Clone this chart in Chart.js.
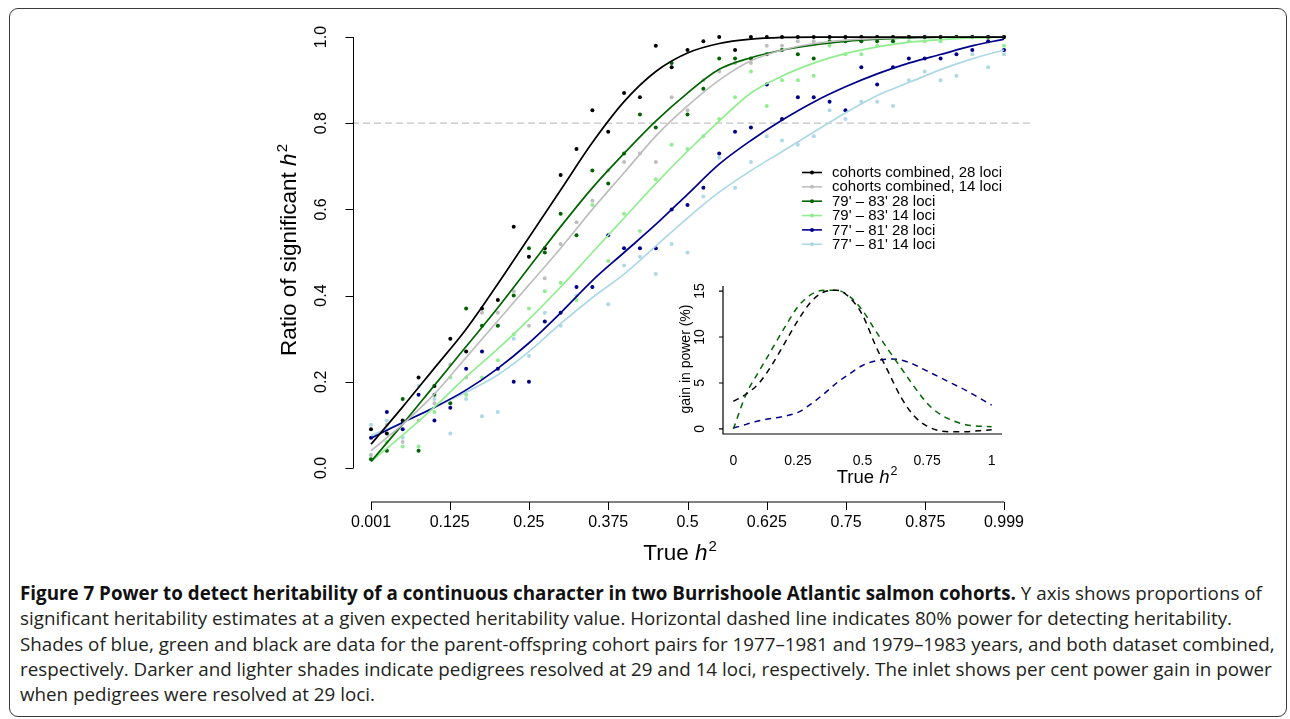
<!DOCTYPE html>
<html lang="en">
<head>
<meta charset="UTF-8">
<title>Figure 7</title>
<script src="https://cdn.jsdelivr.net/npm/chart.js"></script>
<style>
    body { margin: 0; background: #fff; width: 1290px; height: 719px; overflow: hidden; position: relative; }
    #frame { position: absolute; left: 9px; top: 8px; width: 1276px; height: 707px; border: 1.5px solid #3a3a3a; border-radius: 9px; }
    #main { position: absolute; left: 0; top: 0; width: 1290px; height: 575px; }
    #inset { position: absolute; left: 660px; top: 270px; width: 360px; height: 230px; }
    #caption { position: absolute; left: 20px; top: 581px; font-family: "Open Sans", sans-serif; font-size: 18.8px; line-height: 25.25px; color: #231f20; white-space: nowrap; }
    #caption b { color: #111; }
</style>
</head>
<body>
<div id="frame"></div>
<div id="main"><canvas id="mainChart"></canvas></div>
<div id="inset"><canvas id="insetChart"></canvas></div>
<div id="caption">
    <div><b>Figure 7 Power to detect heritability of a continuous character in two Burrishoole Atlantic salmon cohorts.</b> Y axis shows proportions of</div>
    <div>significant heritability estimates at a given expected heritability value. Horizontal dashed line indicates 80% power for detecting heritability.</div>
    <div>Shades of blue, green and black are data for the parent-offspring cohort pairs for 1977–1981 and 1979–1983 years, and both dataset combined,</div>
    <div>respectively. Darker and lighter shades indicate pedigrees resolved at 29 and 14 loci, respectively. The inlet shows per cent power gain in power</div>
    <div>when pedigrees were resolved at 29 loci.</div>
</div>
<script>
// simulated true h2 values
const hx = [0.001,0.026,0.051,0.076,0.101,0.126,0.151,0.176,0.201,0.226,0.250,0.275,0.300,0.325,0.350,0.375,0.400,0.425,0.450,0.475,0.500,0.525,0.550,0.575,0.600,0.625,0.649,0.674,0.699,0.724,0.749,0.774,0.799,0.824,0.849,0.874,0.899,0.924,0.949,0.974,0.999];

// ratio of significant estimates
const ptBlack = [0.09,0.08,0.11,0.21,0.19,0.30,0.27,0.37,0.39,0.56,0.49,0.51,0.68,0.74,0.83,0.78,0.87,0.86,0.98,0.93,0.97,0.99,1.00,0.97,1.00,1.00,1.00,1.00,1.00,1.00,1.00,1.00,1.00,1.00,1.00,1.00,1.00,1.00,1.00,1.00,1.00];
const ptGray = [0.03,0.10,0.06,0.11,0.15,0.24,0.21,0.36,0.36,0.41,0.33,0.44,0.52,0.57,0.62,0.69,0.71,0.73,0.71,0.86,0.83,0.90,0.92,0.94,0.94,0.98,0.98,0.99,0.99,1.00,1.00,1.00,1.00,1.00,1.00,1.00,1.00,1.00,1.00,1.00,1.00];
const ptGreen = [0.02,0.04,0.16,0.04,0.17,0.15,0.37,0.33,0.33,0.40,0.51,0.50,0.59,0.54,0.69,0.66,0.73,0.82,0.79,0.94,0.82,0.88,0.95,0.95,0.95,0.96,0.97,0.96,0.95,0.99,0.99,0.99,0.99,0.99,1.00,1.00,1.00,1.00,1.00,1.00,1.00];
const ptLightGreen = [0.03,0.06,0.05,0.05,0.13,0.21,0.17,0.21,0.25,0.31,0.37,0.41,0.43,0.39,0.61,0.48,0.59,0.55,0.67,0.75,0.74,0.77,0.81,0.86,0.92,0.84,0.90,0.90,0.91,0.98,0.96,0.96,0.98,0.99,0.99,0.99,0.99,1.00,1.00,1.00,0.98];
const ptBlue = [0.07,0.13,0.09,0.17,0.11,0.14,0.23,0.27,0.23,0.20,0.20,0.34,0.36,0.42,0.42,0.54,0.51,0.51,0.51,0.60,0.61,0.65,0.73,0.78,0.79,0.89,0.81,0.86,0.86,0.85,0.83,0.93,0.89,0.93,0.95,0.95,0.95,0.96,0.97,0.99,0.97];
const ptLightBlue = [0.10,0.11,0.07,0.19,0.16,0.08,0.16,0.12,0.13,0.30,0.26,0.36,0.33,0.40,0.42,0.38,0.47,0.49,0.45,0.52,0.50,0.63,0.72,0.65,0.71,0.77,0.76,0.75,0.77,0.83,0.81,0.85,0.85,0.84,0.90,0.92,0.90,0.91,0.96,0.93,0.96];

// fitted curves
const fitX = [0.001,0.05,0.10,0.15,0.20,0.25,0.30,0.35,0.40,0.45,0.50,0.55,0.60,0.65,0.70,0.75,0.80,0.85,0.90,0.95,0.999];
const fitBlack = [0.055,0.14,0.23,0.32,0.425,0.535,0.645,0.755,0.85,0.92,0.963,0.985,0.995,0.999,1,1,1,1,1,1,1];
const fitGray = [0.04,0.10,0.17,0.255,0.34,0.425,0.51,0.60,0.685,0.77,0.84,0.90,0.945,0.97,0.985,0.993,0.997,0.999,1,1,1];
const fitGreen = [0.015,0.10,0.19,0.28,0.37,0.465,0.56,0.65,0.73,0.805,0.87,0.925,0.952,0.97,0.982,0.99,0.995,0.998,1,1,1];
const fitLightGreen = [0.015,0.075,0.14,0.21,0.275,0.345,0.42,0.50,0.58,0.66,0.735,0.805,0.87,0.91,0.94,0.962,0.977,0.988,0.994,0.998,1];
const fitBlue = [0.069,0.105,0.14,0.18,0.23,0.29,0.36,0.435,0.50,0.565,0.635,0.705,0.76,0.808,0.85,0.885,0.915,0.94,0.96,0.98,0.995];
const fitLightBlue = [0.075,0.105,0.14,0.175,0.215,0.27,0.335,0.395,0.45,0.515,0.58,0.64,0.69,0.735,0.78,0.825,0.865,0.895,0.925,0.95,0.97];

const powerLevel = 0.8;

const seriesNames = ["cohorts combined, 28 loci","cohorts combined, 14 loci","79' \u2013 83' 28 loci","79' \u2013 83' 14 loci","77' \u2013 81' 28 loci","77' \u2013 81' 14 loci"];
const seriesColors = ["#000000","#bebebe","#006400","#90ee90","#00008b","#add8e6"];

const xTicks = [0.001,0.125,0.25,0.375,0.5,0.625,0.75,0.875,0.999];
const xTickLabels = ["0.001","0.125","0.25","0.375","0.5","0.625","0.75","0.875","0.999"];
const yTicks = [0,0.2,0.4,0.6,0.8,1.0];
const yTickLabels = ["0.0","0.2","0.4","0.6","0.8","1.0"];

// inset: gain in power (%)
const insetX = [0,0.05,0.10,0.15,0.20,0.25,0.30,0.35,0.40,0.45,0.50,0.55,0.60,0.65,0.70,0.75,0.80,0.85,0.90,0.95,1.0];
const gainCombined = [3.0,3.8,5.0,7.0,9.4,11.8,13.8,14.9,15.1,14.3,12.4,9.1,6.2,3.4,1.4,0.3,-0.2,-0.3,-0.3,-0.2,-0.1];
const gain7983 = [0.0,3.8,6.3,8.7,11.1,13.3,14.6,15.1,15.1,14.4,12.9,10.7,8.6,6.6,4.6,2.8,1.6,0.9,0.45,0.3,0.25];
const gain7781 = [0.1,0.5,0.9,1.15,1.4,1.8,2.7,3.8,5.0,6.0,6.9,7.4,7.6,7.5,7.0,6.3,5.6,4.9,4.2,3.4,2.6];
const insetColors = ["#000000","#006400","#00008b"];
const insetXTicks = [0,0.25,0.5,0.75,1];
const insetXTickLabels = ["0","0.25","0.5","0.75","1"];
const insetYTicks = [0,5,10,15];

const FONT = '"Liberation Sans", Arial, sans-serif';

function zip(xs, ys) {
    return xs.map((v, i) => ({ x: v, y: ys[i] }));
}

// "pre" + italic h + superscript 2, centred on x
function drawH2(ctx, pre, x, y, size, supSize) {
    ctx.font = size + 'px ' + FONT;
    const w1 = ctx.measureText(pre).width;
    ctx.font = 'italic ' + size + 'px ' + FONT;
    const w2 = ctx.measureText('h').width;
    ctx.font = supSize + 'px ' + FONT;
    const w3 = ctx.measureText('2').width;
    let sx = x - (w1 + w2 + w3 + 1) / 2;
    ctx.textAlign = 'left';
    ctx.textBaseline = 'alphabetic';
    ctx.font = size + 'px ' + FONT;
    ctx.fillText(pre, sx, y);
    ctx.font = 'italic ' + size + 'px ' + FONT;
    ctx.fillText('h', sx + w1, y);
    ctx.font = supSize + 'px ' + FONT;
    ctx.fillText('2', sx + w1 + w2 + 1, y - size * 0.42);
}

const mainAxes = {
    id: 'mainAxes',
    afterDraw(chart) {
        const ctx = chart.ctx;
        const x = chart.scales.x, y = chart.scales.y;
        ctx.save();
        ctx.strokeStyle = '#000';
        ctx.fillStyle = '#000';
        ctx.lineWidth = 1;

        // x axis
        const ax = 502;
        ctx.beginPath();
        ctx.moveTo(x.getPixelForValue(xTicks[0]), ax);
        ctx.lineTo(x.getPixelForValue(xTicks[xTicks.length - 1]), ax);
        xTicks.forEach(v => {
            const p = Math.round(x.getPixelForValue(v)) + 0.5;
            ctx.moveTo(p, ax);
            ctx.lineTo(p, ax + 8);
        });
        ctx.stroke();
        ctx.font = '16px ' + FONT;
        ctx.textAlign = 'center';
        ctx.textBaseline = 'middle';
        xTicks.forEach((v, i) => ctx.fillText(xTickLabels[i], x.getPixelForValue(v), 523));

        // y axis
        const ay = 353.5;
        ctx.beginPath();
        ctx.moveTo(ay, y.getPixelForValue(yTicks[0]));
        ctx.lineTo(ay, y.getPixelForValue(yTicks[yTicks.length - 1]));
        yTicks.forEach(v => {
            const p = Math.round(y.getPixelForValue(v)) + 0.5;
            ctx.moveTo(ay, p);
            ctx.lineTo(ay - 8, p);
        });
        ctx.stroke();
        yTicks.forEach((v, i) => {
            ctx.save();
            ctx.translate(322, y.getPixelForValue(v));
            ctx.rotate(-Math.PI / 2);
            ctx.font = '16px ' + FONT;
            ctx.textAlign = 'center';
            ctx.textBaseline = 'middle';
            ctx.fillText(yTickLabels[i], 0, 0);
            ctx.restore();
        });

        // axis titles
        drawH2(ctx, 'True ', 680, 560, 22.5, 15);
        ctx.save();
        ctx.translate(288, 250);
        ctx.rotate(-Math.PI / 2);
        drawH2(ctx, 'Ratio of significant ', 0, 8, 22.5, 15);
        ctx.restore();

        // legend
        ctx.font = '15px ' + FONT;
        ctx.textAlign = 'left';
        ctx.textBaseline = 'middle';
        seriesNames.forEach((name, i) => {
            const ly = 172.5 + i * 14.35;
            ctx.strokeStyle = seriesColors[i];
            ctx.lineWidth = 1.6;
            ctx.beginPath();
            ctx.moveTo(802, ly);
            ctx.lineTo(822, ly);
            ctx.stroke();
            ctx.fillStyle = seriesColors[i];
            ctx.beginPath();
            ctx.arc(812, ly, 2, 0, Math.PI * 2);
            ctx.fill();
            ctx.fillStyle = '#000';
            ctx.fillText(name, 832, ly + 0.5);
        });
        ctx.restore();
    }
};

const fits = [fitBlack, fitGray, fitGreen, fitLightGreen, fitBlue, fitLightBlue];
const pts = [ptBlack, ptGray, ptGreen, ptLightGreen, ptBlue, ptLightBlue];

let mainSets = [];
fits.forEach((f, i) => {
    mainSets.push({
        data: zip(fitX, f),
        borderColor: seriesColors[i],
        borderWidth: 1.7,
        pointRadius: 0,
        cubicInterpolationMode: 'monotone',
        fill: false
    });
});
pts.forEach((p, i) => {
    mainSets.push({
        data: zip(hx, p),
        showLine: false,
        pointRadius: 2,
        pointBorderWidth: 0,
        pointBackgroundColor: seriesColors[i],
        borderColor: seriesColors[i]
    });
});
mainSets.push({
    data: [{ x: -0.029, y: powerLevel }, { x: 1.04, y: powerLevel }],
    borderColor: '#c4c4c4',
    borderWidth: 1.2,
    borderDash: [7, 4],
    pointRadius: 0
});

new Chart(document.getElementById('mainChart'), {
    type: 'line',
    data: { datasets: mainSets },
    options: {
        responsive: true,
        maintainAspectRatio: false,
        animation: false,
        layout: { padding: { left: 345, right: 260, top: 19.8, bottom: 89.8 } },
        plugins: { legend: { display: false }, tooltip: { enabled: false } },
        scales: {
            x: { type: 'linear', min: -0.04, max: 1.04, display: false },
            y: { type: 'linear', min: -0.04, max: 1.04, display: false }
        }
    },
    plugins: [mainAxes]
});

const insetAxes = {
    id: 'insetAxes',
    afterDraw(chart) {
        const ctx = chart.ctx;
        const a = chart.chartArea;
        const x = chart.scales.x, y = chart.scales.y;
        ctx.save();
        ctx.strokeStyle = '#000';
        ctx.fillStyle = '#000';
        ctx.lineWidth = 1.2;
        ctx.beginPath();
        ctx.moveTo(a.left, a.top);
        ctx.lineTo(a.left, a.bottom);
        ctx.lineTo(a.right, a.bottom);
        insetYTicks.forEach(v => {
            const p = y.getPixelForValue(v);
            ctx.moveTo(a.left, p);
            ctx.lineTo(a.left - 4, p);
        });
        ctx.stroke();
        ctx.font = '14px ' + FONT;
        ctx.textAlign = 'center';
        ctx.textBaseline = 'middle';
        insetXTicks.forEach((v, i) => ctx.fillText(insetXTickLabels[i], x.getPixelForValue(v), 191));
        insetYTicks.forEach(v => {
            ctx.save();
            ctx.translate(40, y.getPixelForValue(v));
            ctx.rotate(-Math.PI / 2);
            ctx.fillText(String(v), 0, 0);
            ctx.restore();
        });
        ctx.save();
        ctx.translate(26, 89);
        ctx.rotate(-Math.PI / 2);
        ctx.font = '14px ' + FONT;
        ctx.fillText('gain in power (%)', 0, 0);
        ctx.restore();
        drawH2(ctx, 'True ', 207, 213, 18.5, 12.5);
        ctx.restore();
    }
};

const gains = [gainCombined, gain7983, gain7781];
new Chart(document.getElementById('insetChart'), {
    type: 'line',
    data: {
        datasets: gains.map((g, i) => ({
            data: zip(insetX, g),
            borderColor: insetColors[i],
            borderWidth: 1.5,
            borderDash: [6, 5],
            pointRadius: 0,
            cubicInterpolationMode: 'monotone',
            fill: false
        }))
    },
    options: {
        responsive: true,
        maintainAspectRatio: false,
        animation: false,
        layout: { padding: { left: 63, right: 18, top: 16, bottom: 66 } },
        plugins: { legend: { display: false }, tooltip: { enabled: false } },
        scales: {
            x: { type: 'linear', min: -0.04, max: 1.04, display: false },
            y: { type: 'linear', min: -0.55, max: 15.55, display: false }
        }
    },
    plugins: [insetAxes]
});
</script>
</body>
</html>
